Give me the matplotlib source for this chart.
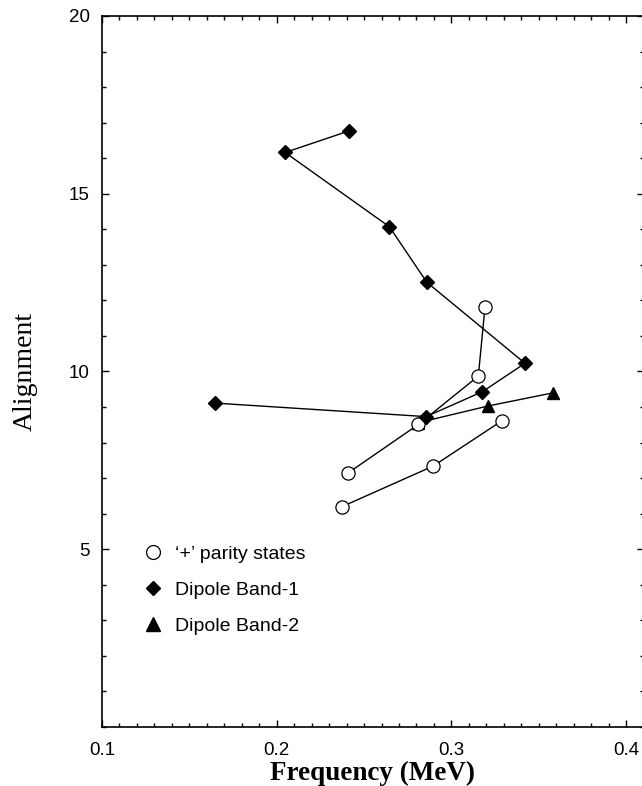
import matplotlib
matplotlib.use("Agg")
import matplotlib.pyplot as plt
from matplotlib.lines import Line2D
from matplotlib.ticker import MultipleLocator, FixedLocator

# '+' parity states, two separate sequences
plus1_freq = [0.3192, 0.3154, 0.2811, 0.2410]
plus1_align = [11.81, 9.87, 8.51, 7.15]
plus2_freq = [0.2375, 0.2896, 0.3288]
plus2_align = [6.20, 7.34, 8.61]

# Dipole Band-1
band1_freq = [0.2416, 0.2048, 0.2645, 0.2859, 0.3421, 0.3177, 0.2855, 0.1647]
band1_align = [16.77, 16.16, 14.07, 12.51, 10.23, 9.43, 8.73, 9.11]

# Dipole Band-2
band2_freq = [0.2811, 0.3211, 0.3583]
band2_align = [8.56, 9.03, 9.40]

legend_labels = ["\u2018+\u2019 parity states", "Dipole Band-1", "Dipole Band-2"]
xticks = [0.1, 0.2, 0.3, 0.4]
yticks = [5, 10, 15, 20]

fig = plt.figure(figsize=(6.42, 7.86), dpi=100)
ax = fig.add_axes([0.1589, 0.0751, 0.8436, 0.9046])

lw = 1.0
ax.plot(band1_freq, band1_align, color="black", lw=lw, marker="D", ms=7,
        mfc="black", mec="black", zorder=3)
ax.plot(band2_freq, band2_align, color="black", lw=lw, marker="^", ms=9,
        mfc="black", mec="black", zorder=2)
for fx, ay in [(plus1_freq, plus1_align), (plus2_freq, plus2_align)]:
    ax.plot(fx, ay, color="black", lw=lw, marker="o", ms=9.5,
            mfc="white", mec="black", mew=0.9, zorder=2)

ax.set_xlim(0.1, 0.41)
ax.set_ylim(0, 20)
ax.xaxis.set_major_locator(FixedLocator(xticks))
ax.xaxis.set_minor_locator(MultipleLocator(0.01))
ax.yaxis.set_major_locator(FixedLocator(yticks))
ax.yaxis.set_minor_locator(MultipleLocator(1))
ax.set_xticklabels(["0.1", "0.2", "0.3", "0.4"], family="Liberation Sans", fontsize=13.5)
ax.set_yticklabels(["5", "10", "15", "20"], family="Liberation Sans", fontsize=13.5)
ax.tick_params(which="both", direction="in", top=True, right=True, width=1.0)
ax.tick_params(which="major", length=5)
ax.tick_params(which="minor", length=3)
ax.tick_params(axis="x", which="major", pad=11)
ax.tick_params(axis="y", which="major", pad=9)
for s in ax.spines.values():
    s.set_linewidth(1.2)

ax.set_xlabel("Frequency (MeV)", family="Liberation Serif", fontweight="bold",
              fontsize=19.5, labelpad=1)
ax.set_ylabel("Alignment", family="Liberation Serif", fontsize=20, labelpad=22)

handles = [
    Line2D([], [], ls="none", marker="o", ms=10, mfc="white", mec="black", mew=0.9),
    Line2D([], [], ls="none", marker="D", ms=7, mfc="black", mec="black"),
    Line2D([], [], ls="none", marker="^", ms=10, mfc="black", mec="black"),
]
leg = ax.legend(handles, legend_labels, loc="upper left",
                bbox_to_anchor=(0.0757, 0.256), frameon=False,
                prop={"family": "Liberation Sans", "size": 14},
                handlelength=1.0, handletextpad=0.65, borderpad=0,
                borderaxespad=0, labelspacing=0.95)

fig.savefig("out.png", dpi=100)
